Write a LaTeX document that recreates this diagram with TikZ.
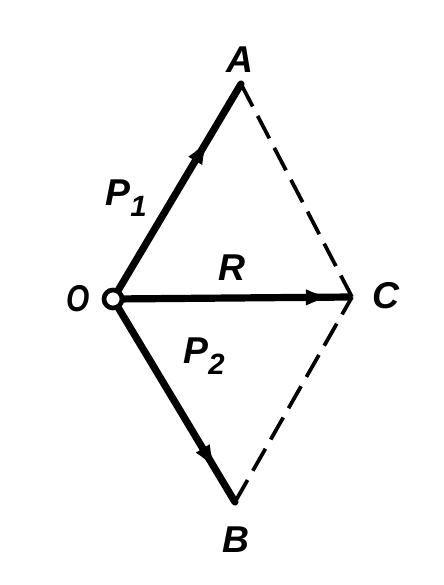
\documentclass[tikz,border=0pt]{standalone}
\usepackage{fontspec}
\setmainfont{Liberation Sans}
\usetikzlibrary{arrows.meta,decorations.markings}

\tikzset{
  force/.style={line width=5.4pt,line cap=round},
  side/.style={line width=2.8pt,dash pattern=on 19pt off 8pt},
  lbl/.style={font=\fontsize{28}{28}\selectfont\bfseries\itshape},
  tipat/.style={postaction={decorate,decoration={markings,
      mark=at position #1 with {\arrow{Latex[length=22pt,width=12pt]}}}}}
}

\begin{document}
\begin{tikzpicture}[x=0.75pt,y=-0.75pt]

  % ---- frame (pixel coordinates) ---------------------------
  \useasboundingbox (0,0) rectangle (443,585);

  % ---- points ----------------------------------------------
  \coordinate (O) at (113,299);
  \coordinate (A) at (241,84);
  \coordinate (C) at (352,297);
  \coordinate (B) at (235,502);

  % ---- dashed sides of the parallelogram -------------------
  \draw[side] (A) -- (C);
  \draw[side] (B) -- (C);

  % ---- forces and resultant --------------------------------
  \draw[force,tipat=0.76] (O) -- (A);
  \draw[force,tipat=0.86] (O) -- (B);
  \draw[force,line cap=butt,tipat=0.93] (O) -- (C);

  % ---- pivot ------------------------------------------------
  \draw[line width=3.5pt,fill=white] (O) circle (9);

  % ---- labels ----------------------------------------------
  \node[lbl] (lA) at (240,60) {A};
  \node[lbl] (lC) at (386,296) {C};
  \node[lbl] (lB) at (236,540) {B};
  \node[lbl,xscale=0.8] (lO) at (78,299) {O};
  \node[lbl] (lP1) at (126,198) {P\raisebox{-0.3em}{\fontsize{22}{22}\selectfont 1}};
  \node[lbl] (lR) at (232,268) {R};
  \node[lbl] (lP2) at (204,356) {P\raisebox{-0.3em}{\fontsize{22}{22}\selectfont 2}};

\end{tikzpicture}
\end{document}
